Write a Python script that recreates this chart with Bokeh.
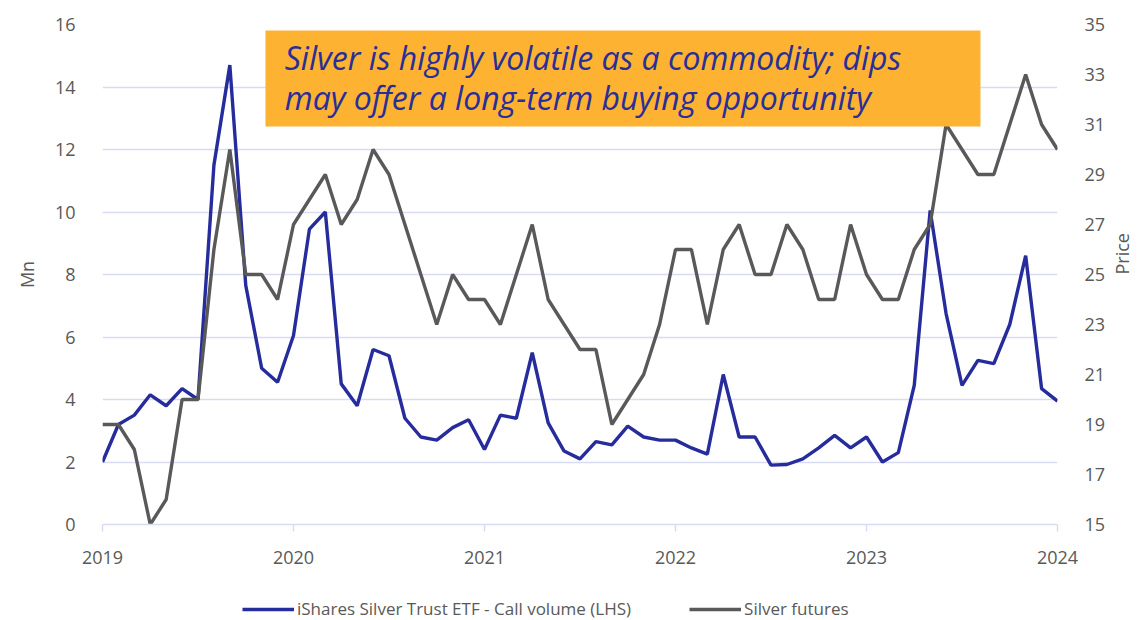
import math
from bokeh.plotting import figure
from bokeh.layouts import column
from bokeh.models import (LinearAxis, Range1d, FixedTicker, Legend, LegendItem,
                          BoxAnnotation, Label, ColumnDataSource)
from bokeh.embed import file_html
from bokeh.resources import INLINE

# ---- data (monthly, Jan 2019 .. Jan 2024) ----
months = [f"{y}-{m:02d}" for y in range(2019, 2024) for m in range(1, 13)] + ["2024-01"]
call_volume_mn = [2.0, 3.2, 3.5, 4.15, 3.8, 4.35, 4.0, 11.5, 14.7, 7.65, 5.0, 4.55,
                  6.05, 9.45, 10.0, 4.5, 3.8, 5.6, 5.4, 3.4, 2.8, 2.7, 3.1, 3.35,
                  2.4, 3.5, 3.4, 5.5, 3.25, 2.35, 2.1, 2.65, 2.55, 3.15, 2.8, 2.7,
                  2.7, 2.45, 2.25, 4.8, 2.8, 2.8, 1.9, 1.92, 2.1, 2.45, 2.85, 2.45,
                  2.8, 2.0, 2.3, 4.45, 10.05, 6.75, 4.45, 5.25, 5.15, 6.4, 8.6, 4.35,
                  3.95]
silver_futures = [19, 19, 18, 15, 16, 20, 20, 26, 30, 25, 25, 24,
                  27, 28, 29, 27, 28, 30, 29, 27, 25, 23, 25, 24,
                  24, 23, 25, 27, 24, 23, 22, 22, 19, 20, 21, 23,
                  26, 26, 23, 26, 27, 25, 25, 27, 26, 24, 24, 27,
                  25, 24, 24, 26, 27, 31, 30, 29, 29, 31, 33, 31,
                  30]
year_labels = ["2019", "2020", "2021", "2022", "2023", "2024"]
left_ticks = [0, 2, 4, 6, 8, 10, 12, 14, 16]
right_ticks = [15, 17, 19, 21, 23, 25, 27, 29, 31, 33, 35]
series_names = ["iShares Silver Trust ETF - Call volume (LHS)", "Silver futures"]
note_lines = ["Silver is highly volatile as a commodity; dips",
              "may offer a long-term buying opportunity"]

idx = list(range(len(months)))
year_ticks = [months.index(y + "-01") for y in year_labels]

src = ColumnDataSource(dict(x=idx, vol=call_volume_mn, price=silver_futures))

TXT = "#595959"
GRID = "#D9DBF4"
BLUE = "#262C9C"
GRAY = "#595959"
FONT = "Open Sans"
FS = "18px"

p = figure(width=1135, height=594, frame_width=955, frame_height=500,
           x_range=Range1d(0, 60), y_range=Range1d(0, 16),
           output_backend="svg", toolbar_location=None,
           min_border_left=102, min_border_right=78, min_border_top=24, min_border_bottom=70)
p.outline_line_color = None
p.extra_y_ranges = {"price": Range1d(15, 35)}

# x axis
xa = p.xaxis[0]
xa.ticker = FixedTicker(ticks=year_ticks)
xa.major_label_overrides = {t: l for t, l in zip(year_ticks, year_labels)}
xa.minor_tick_line_color = None
xa.axis_line_color = GRID
xa.axis_line_width = 1.5
xa.major_tick_line_color = GRID
xa.major_tick_line_width = 1.5
xa.major_tick_in = 0
xa.major_tick_out = 7
xa.major_label_standoff = 19
xa.major_label_text_color = TXT
xa.major_label_text_font = FONT
xa.major_label_text_font_size = FS

# left y axis
ya = p.yaxis[0]
ya.ticker = FixedTicker(ticks=left_ticks)
ya.axis_line_color = None
ya.major_tick_line_color = None
ya.minor_tick_line_color = None
ya.major_label_standoff = 21
ya.major_label_text_color = TXT
ya.major_label_text_font = FONT
ya.major_label_text_font_size = FS
ya.axis_label = "Mn"
ya.axis_label_text_color = TXT
ya.axis_label_text_font = FONT
ya.axis_label_text_font_size = FS
ya.axis_label_text_font_style = "normal"
ya.axis_label_standoff = 13

# right y axis
ra = LinearAxis(y_range_name="price", ticker=FixedTicker(ticks=right_ticks))
ra.axis_line_color = None
ra.major_tick_line_color = None
ra.minor_tick_line_color = None
ra.major_label_standoff = 21
ra.major_label_text_color = TXT
ra.major_label_text_font = FONT
ra.major_label_text_font_size = FS
ra.axis_label = "Price"
ra.axis_label_text_color = TXT
ra.axis_label_text_font = FONT
ra.axis_label_text_font_size = FS
ra.axis_label_text_font_style = "normal"
ra.axis_label_standoff = 14
ra.axis_label_orientation = math.pi / 2
p.add_layout(ra, "right")

p.xgrid.grid_line_color = None
p.ygrid.grid_line_color = GRID
p.ygrid.grid_line_width = 1.5

p.line("x", "vol", source=src, line_color=BLUE, line_width=3.4)
p.line("x", "price", source=src, y_range_name="price", line_color=GRAY, line_width=3.4)

# note box
box = BoxAnnotation(left=10.24, right=55.16, top=15.81, bottom=12.74,
                    fill_color="#FDB232", fill_alpha=1.0, line_color=None, level="overlay")
p.add_layout(box)
for i, line in enumerate(note_lines):
    p.add_layout(Label(x=11.45, y=14.96 - i * 1.28, text=line, text_font="Open Sans",
                       text_font_style="italic", text_font_size="32px",
                       text_color="#282E9A", text_baseline="middle", level="overlay"))

# legend strip below the chart: same series, drawn outside this strip's view
lg = figure(width=1135, height=26, x_range=Range1d(0, 60), y_range=Range1d(500, 501),
            output_backend="svg", toolbar_location=None,
            x_axis_location=None, y_axis_location=None,
            min_border_left=0, min_border_right=0, min_border_top=0, min_border_bottom=0)
lg.outline_line_color = None
lg.xgrid.grid_line_color = None
lg.ygrid.grid_line_color = None
s1 = lg.line("x", "vol", source=src, line_color=BLUE, line_width=3.4)
s2 = lg.line("x", "price", source=src, line_color=GRAY, line_width=3.4)
legend = Legend(items=[LegendItem(label=series_names[0], renderers=[s1]),
                       LegendItem(label=series_names[1], renderers=[s2])],
                orientation="horizontal", location=(140, 0),
                label_text_font=FONT, label_text_font_size="17px", label_text_color=TXT,
                glyph_width=52, glyph_height=20, label_standoff=3, spacing=58,
                padding=0, margin=0, border_line_color=None, background_fill_alpha=0)
lg.add_layout(legend)

layout = column(p, lg, spacing=0)
open("out.html", "w").write(file_html(layout, INLINE))
